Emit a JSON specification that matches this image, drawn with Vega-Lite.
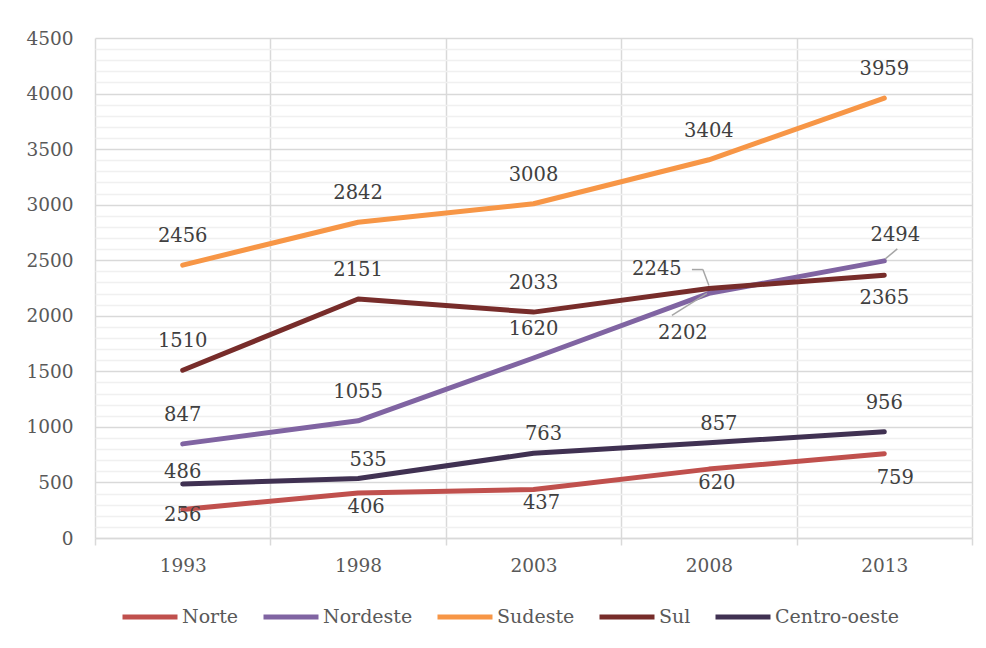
{
  "$schema": "https://vega.github.io/schema/vega-lite/v6.json",
  "autosize": {"type": "none"},
  "width": 877,
  "height": 500,
  "padding": {"left": 95, "top": 38, "right": 14, "bottom": 110},
  "background": "white",
  "config": {
    "view": {"stroke": null},
    "font": "DejaVu Serif"
  },
  "data": {
    "values": [
      {"regiao": "Norte", "ano": 1993, "valor": 256},
      {"regiao": "Norte", "ano": 1998, "valor": 406},
      {"regiao": "Norte", "ano": 2003, "valor": 437},
      {"regiao": "Norte", "ano": 2008, "valor": 620},
      {"regiao": "Norte", "ano": 2013, "valor": 759},
      {"regiao": "Nordeste", "ano": 1993, "valor": 847},
      {"regiao": "Nordeste", "ano": 1998, "valor": 1055},
      {"regiao": "Nordeste", "ano": 2003, "valor": 1620},
      {"regiao": "Nordeste", "ano": 2008, "valor": 2202},
      {"regiao": "Nordeste", "ano": 2013, "valor": 2494},
      {"regiao": "Sudeste", "ano": 1993, "valor": 2456},
      {"regiao": "Sudeste", "ano": 1998, "valor": 2842},
      {"regiao": "Sudeste", "ano": 2003, "valor": 3008},
      {"regiao": "Sudeste", "ano": 2008, "valor": 3404},
      {"regiao": "Sudeste", "ano": 2013, "valor": 3959},
      {"regiao": "Sul", "ano": 1993, "valor": 1510},
      {"regiao": "Sul", "ano": 1998, "valor": 2151},
      {"regiao": "Sul", "ano": 2003, "valor": 2033},
      {"regiao": "Sul", "ano": 2008, "valor": 2245},
      {"regiao": "Sul", "ano": 2013, "valor": 2365},
      {"regiao": "Centro-oeste", "ano": 1993, "valor": 486},
      {"regiao": "Centro-oeste", "ano": 1998, "valor": 535},
      {"regiao": "Centro-oeste", "ano": 2003, "valor": 763},
      {"regiao": "Centro-oeste", "ano": 2008, "valor": 857},
      {"regiao": "Centro-oeste", "ano": 2013, "valor": 956}
    ]
  },
  "encoding": {
    "x": {
      "field": "ano",
      "type": "ordinal",
      "bandPosition": 0.5,
      "scale": {"type": "band", "paddingInner": 0, "paddingOuter": 0},
      "axis": {
        "title": null,
        "tickBand": "extent",
        "labelAngle": 0,
        "domainColor": "#d9d9d9",
        "domainWidth": 1.5,
        "tickColor": "#d9d9d9",
        "tickWidth": 1.5,
        "tickSize": 7,
        "gridColor": "#d9d9d9",
        "gridWidth": 1.5,
        "grid": true,
        "labelFont": "DejaVu Serif",
        "labelFontSize": 18.5,
        "labelColor": "#595959",
        "labelPadding": 11
      }
    },
    "y": {
      "field": "valor",
      "type": "quantitative",
      "scale": {"domain": [0, 4500], "nice": false},
      "axis": {
        "title": null,
        "values": [0,100,200,300,400,500,600,700,800,900,1000,1100,1200,1300,1400,1500,1600,1700,1800,1900,2000,2100,2200,2300,2400,2500,2600,2700,2800,2900,3000,3100,3200,3300,3400,3500,3600,3700,3800,3900,4000,4100,4200,4300,4400,4500],
        "labelExpr": "datum.value % 500 === 0 ? datum.label : ''",
        "format": "d",
        "labelOverlap": false,
        "domain": false,
        "ticks": false,
        "grid": true,
        "gridColor": {"condition": {"test": "datum.value % 500 === 0", "value": "#d9d9d9"}, "value": "#f0f0f0"},
        "gridWidth": 1.5,
        "labelFont": "DejaVu Serif",
        "labelFontSize": 18.5,
        "labelColor": "#595959",
        "labelPadding": 22
      }
    }
  },
  "layer": [
    {
      "mark": {"type": "line", "strokeWidth": 5, "strokeCap": "round", "strokeJoin": "round"},
      "encoding": {
        "color": {
          "field": "regiao",
          "type": "nominal",
          "scale": {
            "domain": ["Norte", "Nordeste", "Sudeste", "Sul", "Centro-oeste"],
            "range": ["#C0504D", "#8064A2", "#F79646", "#772C2A", "#403152"]
          },
          "legend": {
            "title": null,
            "orient": "none",
            "direction": "horizontal",
            "legendX": 25,
            "legendY": 549,
            "symbolType": "stroke",
            "symbolSize": 3025,
            "symbolStrokeWidth": 5,
            "labelFont": "DejaVu Serif",
            "labelFontSize": 19,
            "labelColor": "#595959",
            "labelOffset": 2,
            "columnPadding": 14
          }
        }
      }
    },
    {
      "transform": [{"filter": "(datum.regiao === 'Nordeste' && datum.ano === 2013)"}],
      "mark": {"type": "rule", "color": "#a6a6a6", "strokeWidth": 1.5, "xOffset": 1, "yOffset": -2, "x2Offset": 13, "y2Offset": -12},
      "encoding": {"x2": {"field": "ano", "bandPosition": 0.5}, "y2": {"field": "valor"}}
    },
    {
      "transform": [{"filter": "(datum.regiao === 'Nordeste' && datum.ano === 2008)"}],
      "mark": {"type": "rule", "color": "#a6a6a6", "strokeWidth": 1.5, "xOffset": -37, "yOffset": 22, "x2Offset": -2, "y2Offset": 0},
      "encoding": {"x2": {"field": "ano", "bandPosition": 0.5}, "y2": {"field": "valor"}}
    },
    {
      "transform": [{"filter": "(datum.regiao === 'Sul' && datum.ano === 2008)"}],
      "mark": {"type": "rule", "color": "#a6a6a6", "strokeWidth": 1.5, "xOffset": -17, "yOffset": -19, "x2Offset": -6, "y2Offset": -19},
      "encoding": {"x2": {"field": "ano", "bandPosition": 0.5}, "y2": {"field": "valor"}}
    },
    {
      "transform": [{"filter": "(datum.regiao === 'Sul' && datum.ano === 2008)"}],
      "mark": {"type": "rule", "color": "#a6a6a6", "strokeWidth": 1.5, "xOffset": -6, "yOffset": -19, "x2Offset": 0, "y2Offset": -3},
      "encoding": {"x2": {"field": "ano", "bandPosition": 0.5}, "y2": {"field": "valor"}}
    },
    {
      "transform": [{"filter": "datum.regiao === 'Sudeste' || ((datum.regiao === 'Sul' || datum.regiao === 'Nordeste') && datum.ano <= 2003) || (datum.regiao === 'Centro-oeste' && datum.ano === 2013)"}],
      "mark": {"type": "text", "dy": -29, "font": "DejaVu Serif", "fontSize": 19.5, "fill": "#404040", "baseline": "middle"},
      "encoding": {"text": {"field": "valor"}}
    },
    {
      "transform": [{"filter": "datum.regiao === 'Centro-oeste' && datum.ano >= 1998 && datum.ano <= 2008"}],
      "mark": {"type": "text", "dx": 10, "dy": -19, "font": "DejaVu Serif", "fontSize": 19.5, "fill": "#404040", "baseline": "middle"},
      "encoding": {"text": {"field": "valor"}}
    },
    {
      "transform": [{"filter": "datum.regiao === 'Centro-oeste' && datum.ano === 1993"}],
      "mark": {"type": "text", "dy": -12, "font": "DejaVu Serif", "fontSize": 19.5, "fill": "#404040", "baseline": "middle"},
      "encoding": {"text": {"field": "valor"}}
    },
    {
      "transform": [{"filter": "datum.regiao === 'Norte' && datum.ano === 1993"}],
      "mark": {"type": "text", "dy": 5, "font": "DejaVu Serif", "fontSize": 19.5, "fill": "#404040", "baseline": "middle"},
      "encoding": {"text": {"field": "valor"}}
    },
    {
      "transform": [{"filter": "datum.regiao === 'Norte' && datum.ano >= 1998 && datum.ano <= 2008"}],
      "mark": {"type": "text", "dx": 8, "dy": 14, "font": "DejaVu Serif", "fontSize": 19.5, "fill": "#404040", "baseline": "middle"},
      "encoding": {"text": {"field": "valor"}}
    },
    {
      "transform": [{"filter": "datum.regiao === 'Norte' && datum.ano === 2013"}],
      "mark": {"type": "text", "dx": 11, "dy": 24, "font": "DejaVu Serif", "fontSize": 19.5, "fill": "#404040", "baseline": "middle"},
      "encoding": {"text": {"field": "valor"}}
    },
    {
      "transform": [{"filter": "datum.regiao === 'Sul' && datum.ano === 2013"}],
      "mark": {"type": "text", "dy": 23, "font": "DejaVu Serif", "fontSize": 19.5, "fill": "#404040", "baseline": "middle"},
      "encoding": {"text": {"field": "valor"}}
    },
    {
      "transform": [{"filter": "datum.regiao === 'Sul' && datum.ano === 2008"}],
      "mark": {"type": "text", "dx": -52, "dy": -20, "font": "DejaVu Serif", "fontSize": 19.5, "fill": "#404040", "baseline": "middle"},
      "encoding": {"text": {"field": "valor"}}
    },
    {
      "transform": [{"filter": "datum.regiao === 'Nordeste' && datum.ano === 2008"}],
      "mark": {"type": "text", "dx": -26, "dy": 40, "font": "DejaVu Serif", "fontSize": 19.5, "fill": "#404040", "baseline": "middle"},
      "encoding": {"text": {"field": "valor"}}
    },
    {
      "transform": [{"filter": "datum.regiao === 'Nordeste' && datum.ano === 2013"}],
      "mark": {"type": "text", "dx": 11, "dy": -26, "font": "DejaVu Serif", "fontSize": 19.5, "fill": "#404040", "baseline": "middle"},
      "encoding": {"text": {"field": "valor"}}
    }
  ]
}
